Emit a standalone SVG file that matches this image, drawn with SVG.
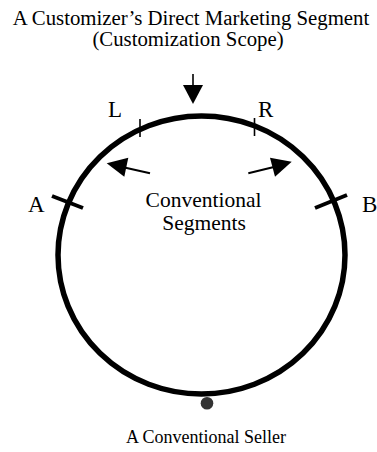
<svg xmlns="http://www.w3.org/2000/svg" width="377" height="452" viewBox="0 0 377 452">
<style>
text{font-family:"Liberation Serif","Times New Roman",serif;fill:#000}
.t{font-size:20.8px}
.lab{font-size:23px}
.cs{font-size:21.5px}
.mid{text-anchor:middle}
.tick{stroke:#000;fill:none}
</style>
<rect width="377" height="452" fill="#fff"/>
<g id="title">
<text class="t mid" x="191" y="25">A Customizer’s Direct Marketing Segment</text>
<text class="t mid" x="188" y="46">(Customization Scope)</text>
</g>
<g id="circle">
<ellipse cx="201.5" cy="255" rx="143.5" ry="139" fill="none" stroke="#000" stroke-width="5.5"/>
</g>
<g id="ticks">
<line class="tick" x1="140" y1="119" x2="140" y2="137" stroke-width="1.6"/>
<line class="tick" x1="254.5" y1="118" x2="254.5" y2="136" stroke-width="1.6"/>
<line class="tick" x1="52" y1="196" x2="83" y2="208" stroke-width="4"/>
<line class="tick" x1="315" y1="208" x2="347" y2="195" stroke-width="4"/>
</g>
<g id="labels">
<text class="lab" x="108" y="117">L</text>
<text class="lab" x="258" y="117">R</text>
<text class="lab" x="28" y="212">A</text>
<text class="lab" x="362" y="212">B</text>
<text class="cs mid" x="203.5" y="207">Conventional</text>
<text class="cs mid" x="204" y="230">Segments</text>
</g>
<g id="connectors">
<line x1="193" y1="74" x2="193" y2="86" stroke="#000" stroke-width="1.6"/>
<polygon points="183,85 203,85 193,104"/>
<line x1="150" y1="173.3" x2="120" y2="166.5" stroke="#000" stroke-width="2"/>
<polygon points="106.7,163.3 128.3,157.7 124.3,176.7"/>
<line x1="248.3" y1="173.3" x2="278" y2="166" stroke="#000" stroke-width="2"/>
<polygon points="291.7,161.7 270,157.7 275,176.7"/>
</g>
<g id="seller">
<circle cx="207" cy="403.3" r="6.3" fill="#333"/>
<text class="mid" x="206" y="443" style="font-size:18px">A Conventional Seller</text>
</g>
</svg>
